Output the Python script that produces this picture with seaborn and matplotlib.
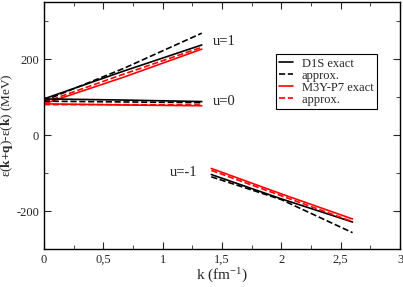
import matplotlib
matplotlib.use("Agg")
import matplotlib.pyplot as plt
import seaborn as sns
import pandas as pd
from matplotlib.ticker import MultipleLocator, FuncFormatter

sns.set_style("ticks")
plt.rcParams['font.family'] = ['Liberation Serif', 'DejaVu Serif']
plt.rcParams['mathtext.fontset'] = 'custom'
plt.rcParams['mathtext.rm'] = 'Liberation Serif'
plt.rcParams['mathtext.it'] = 'Liberation Serif:italic'
plt.rcParams['mathtext.bf'] = 'Liberation Serif:bold'

# k grids
k_low = [0.0, 0.67, 1.33]
k_high = [1.41, 2.0, 2.6]

# u = 1
u1_d1s_exact = [95, 168, 237]
u1_d1s_approx = [90, 175, 268]
u1_m3y_exact = [82, 152, 226]
u1_m3y_approx = [86, 160, 231]
# u = 0
u0_d1s_exact = [95, 92, 88]
u0_d1s_approx = [89, 87, 85]
u0_m3y_exact = [82, 79, 77]
u0_m3y_approx = [80, 80, 79]
# u = -1
um1_d1s_exact = [-104, -168, -229]
um1_d1s_approx = [-110, -170, -257]
um1_m3y_exact = [-88, -155, -221]
um1_m3y_approx = [-93, -160, -228]

series = [
    ("D1S exact", "black", "-", k_low, u1_d1s_exact),
    ("approx.", "black", "--", k_low, u1_d1s_approx),
    ("M3Y-P7 exact", "red", "-", k_low, u1_m3y_exact),
    ("approx. ", "red", "--", k_low, u1_m3y_approx),
    (None, "black", "-", k_low, u0_d1s_exact),
    (None, "black", "--", k_low, u0_d1s_approx),
    (None, "red", "-", k_low, u0_m3y_exact),
    (None, "red", "--", k_low, u0_m3y_approx),
    (None, "black", "-", k_high, um1_d1s_exact),
    (None, "black", "--", k_high, um1_d1s_approx),
    (None, "red", "-", k_high, um1_m3y_exact),
    (None, "red", "--", k_high, um1_m3y_approx),
]

fig = plt.figure(figsize=(4.03, 2.87), dpi=100)
ax = fig.add_axes([0.109, 0.1324, 0.8836, 0.8606])

for label, color, ls, kx, vals in series:
    df = pd.DataFrame({"k": kx, "e": vals})
    sns.lineplot(data=df, x="k", y="e", ax=ax, color=color, linestyle=ls,
                 linewidth=1.2, label=label if label else "_nolegend_")

ax.set_xlim(0, 3)
ax.set_ylim(-300, 350)
ax.xaxis.set_major_locator(MultipleLocator(0.5))
ax.xaxis.set_minor_locator(MultipleLocator(0.25))
ax.yaxis.set_major_locator(MultipleLocator(200))
ax.yaxis.set_minor_locator(MultipleLocator(100))
fmt = FuncFormatter(lambda v, p: ("%g" % v).replace(".", ","))
ax.xaxis.set_major_formatter(fmt)
ax.yaxis.set_major_formatter(fmt)
ax.tick_params(which="both", direction="in", top=True, right=True, labelsize=9)
ax.tick_params(which="major", length=5)
ax.tick_params(which="minor", length=3)
for s in ax.spines.values():
    s.set_linewidth(1.0)
    s.set_color("black")

ax.set_xlabel(r"k (fm$^{\mathregular{-1}}$)", fontsize=11, labelpad=1)
ax.set_ylabel(r"ε($\mathbf{k{+}q}$)-ε($\mathbf{k}$) (MeV)", fontsize=9.5, labelpad=1)

ax.text(1.42, 245, "u=1", fontsize=10.5, va="center")
ax.text(1.42, 88, "u=0", fontsize=10.5, va="center")
ax.text(1.06, -98, "u=-1", fontsize=10.5, va="center")

leg = ax.legend(loc="upper left", bbox_to_anchor=(0.651, 0.79), fontsize=9,
                frameon=True, fancybox=False, edgecolor="black", framealpha=1,
                handlelength=1.1, labelspacing=0.0, borderpad=0.3, handletextpad=0.7,
                borderaxespad=0)
leg.get_frame().set_linewidth(0.8)

fig.savefig("out.png", dpi=100)
